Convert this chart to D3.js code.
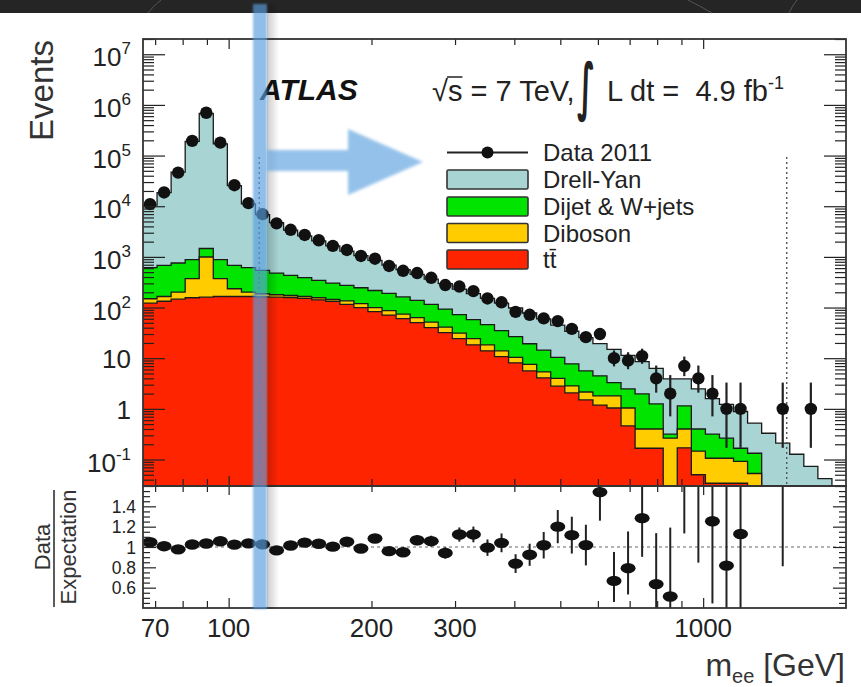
<!DOCTYPE html>
<html>
<head>
<meta charset="utf-8">
<script src="https://cdn.jsdelivr.net/npm/d3@7"></script>
<style>
  html, body { margin: 0; padding: 0; background: #ffffff; }
  svg { display: block; font-family: "Liberation Sans", Arial, Helvetica, sans-serif; }
</style>
</head>
<body>
<svg id="chart" width="861" height="687"></svg>
<script>
// Dielectron invariant mass, 50 log-uniform bins between 66 and 2000 GeV
const binEdges = [66.0, 70.66, 75.65, 80.99, 86.71, 92.83, 99.39, 106.40, 113.92, 121.96,
  130.57, 139.79, 149.66, 160.23, 171.54, 183.65, 196.62, 210.50, 225.36, 241.27,
  258.31, 276.54, 296.07, 316.97, 339.35, 363.31, 388.96, 416.43, 445.83, 477.31,
  511.01, 547.09, 585.72, 627.07, 671.35, 718.75, 769.50, 823.83, 882.00, 944.28,
  1010.95, 1082.33, 1158.75, 1240.57, 1328.16, 1421.94, 1522.34, 1629.83, 1744.91, 1868.11, 2000];

// Observed events per bin (Data 2011)
const dataCounts = [11000, 18700, 46000, 195000, 700000, 180000, 26000, 11500, 6980, 4590,
  3430, 2710, 2130, 1650, 1370, 1044, 921, 662, 531, 480,
  386, 278, 260, 211, 151, 127, 82, 72, 61, 54,
  38, 26, 30, 10, 9, 11, 4, 2, 7, 4,
  2, 1, 1, 0, 0, 1, 0, 1, 0, 0];

// Expected events per bin for each background process
const drellYan = [9890, 17870, 46340, 189500, 675500, 169400, 24720, 10490, 6260, 4270,
  2950, 2210, 1720, 1340, 1030, 814, 633, 500, 398, 312,
  250, 202, 159, 130, 106, 87, 71.4, 58.7, 45.6, 34.6,
  26.3, 19.9, 15.0, 11.7, 8.9, 6.6, 5.05, 3.58, 2.76, 2.07,
  1.28, 0.96, 0.72, 0.39, 0.33, 0.21, 0.127, 0.073, 0.042, 0.024];
const dijetWjets = [465, 516, 556, 513, 467, 513, 446, 413, 355, 301,
  258, 223, 187, 159, 138, 127, 117, 103, 87.7, 74.7,
  63.4, 52.4, 41.4, 33.5, 27.6, 21, 16.2, 11.7, 9.0, 6.4,
  4.9, 3.47, 2.68, 1.50, 1.43, 1.57, 0.85, 0.052, 0.74, 0.254,
  0.21, 0.158, 0.075, 0.08, 0, 0, 0, 0, 0, 0];
const diboson = [27, 32, 55, 215, 835, 206, 70, 36, 25, 19,
  15, 14, 14, 12, 20, 19, 17, 16, 13.8, 12.9,
  11.6, 9.1, 6.9, 5.9, 4.4, 3.3, 2.3, 1.97, 1.27, 1.19,
  0.77, 0.65, 0.61, 0.76, 0.58, 0.233, 0.233, 0.264, 0.23, 0.096,
  0.072, 0.072, 0.058, 0.053, 0, 0, 0, 0, 0, 0];
const ttbar = [122, 133, 146, 156, 160, 165, 165, 165, 162, 160,
  158, 151, 142, 133, 115, 100, 83, 71, 60.5, 50.4,
  40, 31.9, 24.3, 18.4, 14.0, 10.7, 8.1, 5.6, 4.1, 2.8,
  2.06, 1.5, 1.19, 1.04, 0.46, 0.167, 0.167, 0, 0.17, 0.05,
  0.034, 0.034, 0.034, 0, 0, 0, 0, 0, 0, 0];

// 68% Poisson intervals [down, up] for small counts
const poissonErr = {1: [0.83, 2.30], 2: [1.29, 2.64], 3: [1.63, 2.92], 4: [1.91, 3.16], 5: [2.16, 3.38],
  6: [2.38, 3.58], 7: [2.58, 3.77], 8: [2.77, 3.95], 9: [2.94, 4.11], 10: [3.11, 4.27], 11: [3.26, 4.42]};

// Axis ticks and labels
const yMajorValues = [0.1, 1, 10, 100, 1e3, 1e4, 1e5, 1e6, 1e7];
const yLabelBase = ["10", "1", "10", "10", "10", "10", "10", "10", "10"];
const yLabelExp = ["-1", "", "", "2", "3", "4", "5", "6", "7"];
const xLabelValues = [70, 100, 200, 300, 1000];
const xLabelText = ["70", "100", "200", "300", "1000"];
const xTickValues = [70, 80, 90, 100, 200, 300, 400, 500, 600, 700, 800, 900, 1000];
const ratioLabelValues = [0.6, 0.8, 1, 1.2, 1.4];
const ratioLabelText = ["0.6", "0.8", "1", "1.2", "1.4"];
const windowLines = [116, 1500];

const legendLabels = ["Data 2011", "Drell-Yan", "Dijet & W+jets", "Diboson", "t\u0074\u0304"];
const legendKeys = ["data", "drellYan", "dijet", "diboson", "ttbar"];

// ---------------------------------------------------------------
const W = 861, H = 687;
const P = {left: 143, right: 846, top: 39, mid: 486, bottom: 608};
const svg = d3.select("#chart");

const x = d3.scaleLog().domain([66, 2000]).range([P.left, P.right]);
const y = d3.scaleLog().domain([0.03, 2e7]).range([P.mid, P.top]);
const yr = d3.scaleLinear().domain([0.4, 1.6]).range([P.bottom, P.mid]);

const colors = {drellYan: "#a8d4d4", dijet: "#00e400", diboson: "#ffcc00", ttbar: "#ff2400"};
const ink = "#222";

const defs = svg.append("defs");
defs.append("clipPath").attr("id", "clipTop").append("rect")
  .attr("x", P.left).attr("y", P.top).attr("width", P.right - P.left).attr("height", P.mid - P.top);
defs.append("clipPath").attr("id", "clipRatio").append("rect")
  .attr("x", P.left).attr("y", P.mid).attr("width", P.right - P.left).attr("height", P.bottom - P.mid);
const f1 = defs.append("filter").attr("id", "soft").attr("x", "-20%").attr("y", "-5%").attr("width", "140%").attr("height", "110%");
f1.append("feGaussianBlur").attr("stdDeviation", 0.9);
const f2 = defs.append("filter").attr("id", "softer").attr("x", "-10%").attr("y", "-20%").attr("width", "120%").attr("height", "140%");
f2.append("feGaussianBlur").attr("stdDeviation", 1.6);
const sh = defs.append("linearGradient").attr("id", "shade").attr("x1", 0).attr("x2", 1).attr("y1", 0).attr("y2", 0);
sh.append("stop").attr("offset", 0).attr("stop-color", "#000").attr("stop-opacity", 0.2);
sh.append("stop").attr("offset", 1).attr("stop-color", "#000").attr("stop-opacity", 0);

// page background and the dark strip along the top
svg.append("rect").attr("width", W).attr("height", H).attr("fill", "#fff");
svg.append("rect").attr("width", W).attr("height", 13).attr("fill", "#252525");
const strip = svg.append("g").attr("stroke", "#555").attr("stroke-width", 1).attr("fill", "none");
strip.append("path").attr("d", "M148,13 Q153,6 161,0");
strip.append("path").attr("d", "M688,0 Q700,6 712,13");
strip.append("path").attr("d", "M789,13 Q792,6 797,0");

// ---------------- stacked backgrounds ----------------
const rows = binEdges.slice(0, -1).map((lo, i) => ({
  lo, hi: binEdges[i + 1],
  ttbar: ttbar[i], diboson: diboson[i], dijet: dijetWjets[i], drellYan: drellYan[i]
}));
const keys = ["ttbar", "diboson", "dijet", "drellYan"];
const series = d3.stack().keys(keys)(rows);
const yPos = v => y(Math.max(v, 1e-4));
const below = P.mid + 80;

function stepLine(s) {
  return s.map((d, i) => {
    const r = rows[i], yy = yPos(d[1]);
    return `${i ? "L" : "M"}${x(r.lo)},${yy}L${x(r.hi)},${yy}`;
  }).join("");
}

const gTop = svg.append("g").attr("clip-path", "url(#clipTop)");
series.slice().reverse().forEach(s => {
  const line = stepLine(s);
  gTop.append("path")
    .attr("d", line + `L${x(2000)},${below}L${x(66)},${below}Z`)
    .attr("fill", colors[s.key]);
  gTop.append("path")
    .attr("d", line + `L${x(2000)},${below}`)
    .attr("fill", "none").attr("stroke", "#1a1a1a").attr("stroke-width", 1.3);
});

// search window markers
windowLines.forEach(m => {
  gTop.append("line").attr("x1", x(m)).attr("x2", x(m)).attr("y1", 157).attr("y2", P.mid)
    .attr("stroke", "#555").attr("stroke-width", 1.4).attr("stroke-dasharray", "2,3");
});

// ---------------- data points ----------------
const totals = rows.map(r => r.ttbar + r.diboson + r.dijet + r.drellYan);
const pts = dataCounts.map((n, i) => {
  const e = poissonErr[n] || [Math.sqrt(n), Math.sqrt(n)];
  return {n, i, xc: Math.sqrt(binEdges[i] * binEdges[i + 1]), lo: e[0], hi: e[1], tot: totals[i]};
}).filter(p => p.n > 0);

gTop.selectAll(".eb").data(pts).join("line")
  .attr("x1", d => x(d.xc)).attr("x2", d => x(d.xc))
  .attr("y1", d => yPos(d.n + d.hi)).attr("y2", d => yPos(d.n - d.lo))
  .attr("stroke", ink).attr("stroke-width", 2.2);
gTop.selectAll(".pt").data(pts).join("circle")
  .attr("cx", d => x(d.xc)).attr("cy", d => y(d.n)).attr("r", 6.2).attr("fill", "#111");

// ---------------- ratio panel ----------------
const gR = svg.append("g").attr("clip-path", "url(#clipRatio)");
gR.append("line").attr("x1", P.left).attr("x2", P.right).attr("y1", yr(1)).attr("y2", yr(1))
  .attr("stroke", "#999").attr("stroke-width", 1.4).attr("stroke-dasharray", "3,3");
gR.selectAll(".reb").data(pts).join("line")
  .attr("x1", d => x(d.xc)).attr("x2", d => x(d.xc))
  .attr("y1", d => yr((d.n + d.hi) / d.tot)).attr("y2", d => yr(Math.max(d.n - d.lo, 0) / d.tot))
  .attr("stroke", ink).attr("stroke-width", 2);
gR.selectAll(".rpt").data(pts.filter(d => d.n / d.tot <= 1.6)).join("ellipse")
  .attr("cx", d => x(d.xc)).attr("cy", d => yr(d.n / d.tot)).attr("rx", 7.5).attr("ry", 5.2).attr("fill", "#111");

// ---------------- axes ----------------
function minorLog(lo, hi) {
  const t = [];
  for (let e = -2; e <= 7; e++) for (let m = 2; m <= 9; m++) {
    const v = m * Math.pow(10, e);
    if (v >= lo && v <= hi) t.push(v);
  }
  return t;
}
const yMinor = minorLog(0.03, 2e7);
const ratioMinor = d3.range(0.45, 1.6, 0.05).filter(v => Math.abs(v * 5 - Math.round(v * 5)) > 1e-6);
const xMajorDecades = [100, 1000];
const xOther = xTickValues.filter(v => !xMajorDecades.includes(v));

function addAxis(axis, tx, ty) {
  const g = svg.append("g").attr("transform", `translate(${tx},${ty})`).call(axis);
  g.select(".domain").remove();
  g.selectAll("text").remove();
  g.selectAll("line").attr("stroke", ink).attr("stroke-width", 1.2);
  return g;
}
// top panel, y
addAxis(d3.axisLeft(y).tickValues(yMajorValues).tickSize(-22), P.left, 0);
addAxis(d3.axisLeft(y).tickValues(yMinor).tickSize(-11), P.left, 0);
addAxis(d3.axisRight(y).tickValues(yMajorValues).tickSize(-22), P.right, 0);
addAxis(d3.axisRight(y).tickValues(yMinor).tickSize(-11), P.right, 0);
// top panel, x
addAxis(d3.axisTop(x).tickValues(xMajorDecades).tickSize(-10), 0, P.top);
addAxis(d3.axisTop(x).tickValues(xOther).tickSize(-6), 0, P.top);
addAxis(d3.axisBottom(x).tickValues(xMajorDecades).tickSize(-10), 0, P.mid);
addAxis(d3.axisBottom(x).tickValues(xOther).tickSize(-7), 0, P.mid);
// ratio panel
addAxis(d3.axisLeft(yr).tickValues(ratioLabelValues).tickSize(-13), P.left, 0);
addAxis(d3.axisLeft(yr).tickValues(ratioMinor).tickSize(-7), P.left, 0);
addAxis(d3.axisRight(yr).tickValues(ratioLabelValues).tickSize(-13), P.right, 0);
addAxis(d3.axisRight(yr).tickValues(ratioMinor).tickSize(-7), P.right, 0);
addAxis(d3.axisTop(x).tickValues(xMajorDecades).tickSize(-9), 0, P.mid);
addAxis(d3.axisTop(x).tickValues(xOther).tickSize(-6), 0, P.mid);
addAxis(d3.axisBottom(x).tickValues(xMajorDecades).tickSize(-10), 0, P.bottom);
addAxis(d3.axisBottom(x).tickValues(xOther).tickSize(-7), 0, P.bottom);

// frames
svg.append("rect").attr("x", P.left).attr("y", P.top).attr("width", P.right - P.left).attr("height", P.mid - P.top)
  .attr("fill", "none").attr("stroke", "#333").attr("stroke-width", 1.8);
svg.append("rect").attr("x", P.left).attr("y", P.mid).attr("width", P.right - P.left).attr("height", P.bottom - P.mid)
  .attr("fill", "none").attr("stroke", "#333").attr("stroke-width", 1.8);

// tick labels
const yl = svg.append("g").attr("fill", ink).attr("font-size", 26).attr("text-anchor", "end");
yMajorValues.forEach((v, i) => {
  const t = yl.append("text").attr("x", 131).attr("y", y(v) + (yLabelExp[i] ? 12 : 10)).text(yLabelBase[i]);
  if (yLabelExp[i]) t.append("tspan").attr("dy", -12).attr("font-size", 17).text(yLabelExp[i]);
});
const rl = svg.append("g").attr("fill", ink).attr("font-size", 17.5).attr("text-anchor", "end");
ratioLabelValues.forEach((v, i) => rl.append("text").attr("x", 136).attr("y", yr(v) + 6.5).text(ratioLabelText[i]));
const xl = svg.append("g").attr("fill", ink).attr("font-size", 26).attr("text-anchor", "middle");
xLabelValues.forEach((v, i) => xl.append("text").attr("x", x(v)).attr("y", 637).text(xLabelText[i]));

// axis titles
svg.append("text").attr("transform", "translate(53,40) rotate(-90)").attr("text-anchor", "end")
  .attr("font-size", 33).attr("fill", "#333").text("Events");
const xt = svg.append("text").attr("x", 845).attr("y", 676).attr("text-anchor", "end").attr("font-size", 32).attr("fill", "#333");
xt.append("tspan").text("m");
xt.append("tspan").attr("dy", 7).attr("font-size", 20).text("ee");
xt.append("tspan").attr("dy", -7).text(" [GeV]");
svg.append("text").attr("transform", `translate(50,${yr(1)}) rotate(-90)`).attr("text-anchor", "middle")
  .attr("font-size", 22).attr("fill", "#333").text("Data");
svg.append("line").attr("x1", 54).attr("x2", 54).attr("y1", 490).attr("y2", 607).attr("stroke", "#333").attr("stroke-width", 1.6);
svg.append("text").attr("transform", `translate(76,${yr(1)}) rotate(-90)`).attr("text-anchor", "middle")
  .attr("font-size", 22).attr("fill", "#333").text("Expectation");

// ---------------- header ----------------
svg.append("text").attr("x", 260).attr("y", 100).attr("font-size", 30).attr("font-weight", "bold")
  .attr("font-style", "italic").attr("fill", "#111").text("ATLAS");
const en = svg.append("text").attr("x", 432).attr("y", 101).attr("font-size", 29).attr("fill", "#222").text("\u221As = 7 TeV,");
{
  const node = en.node();
  const sx0 = node.getSubStringLength(0, 1) + 432, sw = node.getSubStringLength(1, 1);
  svg.append("line").attr("x1", sx0 - 1).attr("x2", sx0 + sw).attr("y1", 77).attr("y2", 77)
    .attr("stroke", "#222").attr("stroke-width", 1.5);
}
const integ = svg.append("text").attr("x", 0).attr("y", 0).attr("font-size", 60).attr("fill", "#222")
  .attr("font-family", "DejaVu Sans").attr("font-weight", "bold").text("\u222B");
{
  const b = integ.node().getBBox();
  const tw = 18, th = 73, tx = 577, ty = 50;
  integ.attr("transform", `translate(${tx - b.x * (tw / b.width)},${ty - b.y * (th / b.height)}) scale(${tw / b.width},${th / b.height})`);
}
const lum = svg.append("text").attr("x", 607).attr("y", 101).attr("font-size", 29).attr("fill", "#222")
  .attr("xml:space", "preserve").style("white-space", "pre").text("L dt =  4.9 fb");
lum.append("tspan").attr("dy", -12).attr("font-size", 18).text("-1");

// ---------------- legend ----------------
const lg = svg.append("g");
const rowY = [152.5, 179.5, 206.5, 233, 259.5];
legendKeys.forEach((k, i) => {
  const cy = rowY[i];
  if (k === "data") {
    lg.append("line").attr("x1", 447).attr("x2", 528).attr("y1", cy).attr("y2", cy).attr("stroke", ink).attr("stroke-width", 2);
    lg.append("circle").attr("cx", 487.5).attr("cy", cy).attr("r", 6).attr("fill", "#111");
  } else {
    lg.append("rect").attr("x", 447).attr("y", cy - 9.5).attr("width", 81).attr("height", 19).attr("rx", 1.5)
      .attr("fill", colors[k]).attr("stroke", "#333").attr("stroke-width", 1.6);
  }
  lg.append("text").attr("x", 543).attr("y", cy + 8.5).attr("font-size", 24).attr("fill", ink).text(legendLabels[i]);
});

// ---------------- highlight overlay ----------------
const ov = svg.append("g");
ov.append("rect").attr("x", 267).attr("y", 4).attr("width", 12).attr("height", 605).attr("fill", "url(#shade)");
ov.append("rect").attr("x", 253).attr("y", 4).attr("width", 14).attr("height", 605)
  .attr("fill", "rgb(88,158,222)").attr("opacity", 0.66).attr("filter", "url(#soft)");
const arrow = ov.append("g").attr("fill", "rgb(100,165,225)").attr("opacity", 0.68).attr("filter", "url(#softer)");
arrow.append("rect").attr("x", 267).attr("y", 150).attr("width", 82).attr("height", 21);
arrow.append("path").attr("d", "M348,129L423,162L348,195Z");
</script>
</body>
</html>
